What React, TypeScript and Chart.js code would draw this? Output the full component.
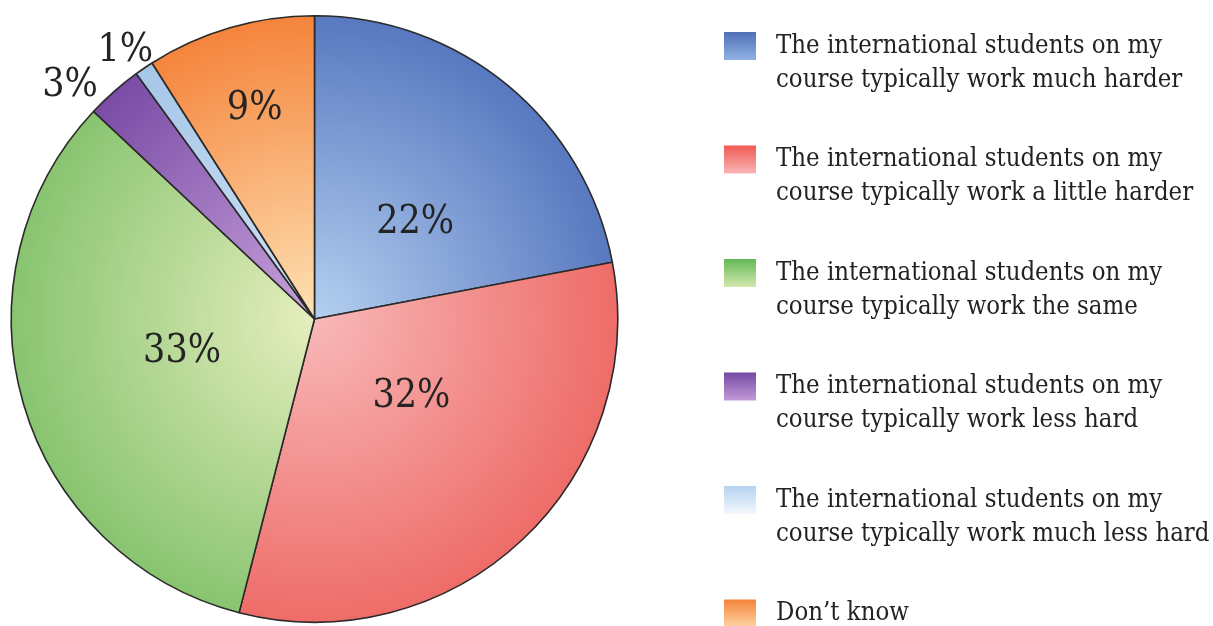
import React, { useEffect, useRef } from "react";
import { Chart, registerables } from "chart.js";

Chart.register(...registerables);

const categories: string[][] = [
  ["The international students on my", "course typically work much harder"],
  ["The international students on my", "course typically work a little harder"],
  ["The international students on my", "course typically work the same"],
  ["The international students on my", "course typically work less hard"],
  ["The international students on my", "course typically work much less hard"],
  ["Don\u2019t know"],
];
const values: number[] = [22, 32, 33, 3, 1, 9];
const valueLabels: string[] = ["22%", "32%", "33%", "3%", "1%", "9%"];

// [light (centre), dark (edge)]
const sliceColors: [string, string][] = [
  ["#b4d0f0", "#5878c0"],
  ["#f8b8b8", "#ee6c68"],
  ["#e6eebe", "#88c470"],
  ["#c8a2dc", "#7a4ca6"],
  ["#cfe2f5", "#a6c6e8"],
  ["#fee2b4", "#f5843c"],
];
// legend box: [top, bottom]
const boxColors: [string, string][] = [
  ["#4f70b8", "#90b2e2"],
  ["#f05a52", "#f9b6b6"],
  ["#64b858", "#d2e8ae"],
  ["#7448a4", "#c29ad8"],
  ["#b4d2f0", "#f4f8fd"],
  ["#f5843c", "#fdd4a2"],
];

// label placement (layout only): [radius fraction, angle offset in degrees]
const labelPlacement: [number, number][] = [
  [0.46, 6.6],
  [0.41, -8],
  [0.45, 2.2],
  [1.115, -4.9],
  [1.083, -1],
  [0.72, 0.3],
];

const labelFont = "39px 'DejaVu Serif Condensed', 'DejaVu Serif', serif";
const legendFont = "25.5px 'DejaVu Serif Condensed', 'DejaVu Serif', serif";

const labelPlugin = {
  id: "sliceLabels",
  afterDatasetsDraw(chart: any) {
    const ctx = chart.ctx;
    const meta = chart.getDatasetMeta(0);
    ctx.save();
    ctx.font = labelFont;
    ctx.fillStyle = "#242424";
    ctx.textAlign = "center";
    ctx.textBaseline = "middle";
    meta.data.forEach((arc: any, i: number) => {
      const { x, y, startAngle, endAngle, outerRadius } = arc.getProps(
        ["x", "y", "startAngle", "endAngle", "outerRadius"],
        true
      );
      const [f, off] = labelPlacement[i];
      const mid = (startAngle + endAngle) / 2 + (off * Math.PI) / 180;
      const r = outerRadius * f;
      ctx.fillText(valueLabels[i], x + Math.cos(mid) * r, y + Math.sin(mid) * r);
    });
    ctx.restore();
  },
};

const legendPlugin = {
  id: "sideLegend",
  afterDraw(chart: any) {
    const ctx = chart.ctx;
    ctx.save();
    const boxX = 724;
    const boxW = 32;
    const boxH = 28;
    const textX = 776;
    const top = 46;
    const step = 113.5;
    const lineH = 34;
    categories.forEach((lines, i) => {
      const cy = top + i * step;
      const g = ctx.createLinearGradient(0, cy - boxH / 2, 0, cy + boxH / 2);
      g.addColorStop(0, boxColors[i][0]);
      g.addColorStop(1, boxColors[i][1]);
      ctx.fillStyle = g;
      ctx.fillRect(boxX, cy - boxH / 2, boxW, boxH);
      ctx.font = legendFont;
      ctx.fillStyle = "#222222";
      ctx.textAlign = "left";
      ctx.textBaseline = "middle";
      lines.forEach((t, j) => {
        ctx.fillText(t, textX, cy + j * lineH);
      });
    });
    ctx.restore();
  },
};

export default function App() {
  const ref = useRef<HTMLCanvasElement | null>(null);
  useEffect(() => {
    document.body.style.margin = "0";
    if (!ref.current) return;
    const chart = new Chart(ref.current, {
      type: "pie",
      data: {
        labels: categories.map((c) => c.join(" ")),
        datasets: [
          {
            data: values,
            backgroundColor: (c: any) => {
              const chart = c.chart;
              const area = chart.chartArea;
              const i = c.dataIndex;
              if (!area || i === undefined) return sliceColors[i ?? 0][1];
              const cx = (area.left + area.right) / 2;
              const cy = (area.top + area.bottom) / 2;
              const r = Math.min(area.right - area.left, area.bottom - area.top) / 2;
              const g = chart.ctx.createRadialGradient(cx, cy, 0, cx, cy, r);
              g.addColorStop(0, sliceColors[i][0]);
              g.addColorStop(1, sliceColors[i][1]);
              return g;
            },
            borderColor: "#2a2a2a",
            borderWidth: 1.6,
          },
        ],
      },
      options: {
        responsive: false,
        animation: false,
        layout: { padding: { left: 10, right: 594, top: 15, bottom: 3 } },
        plugins: {
          legend: { display: false },
          tooltip: { enabled: false },
        },
      },
      plugins: [labelPlugin, legendPlugin],
    });
    return () => chart.destroy();
  }, []);
  return (
    <div style={{ width: 1213, height: 626, background: "#ffffff" }}>
      <canvas ref={ref} width={1213} height={626} />
    </div>
  );
}
